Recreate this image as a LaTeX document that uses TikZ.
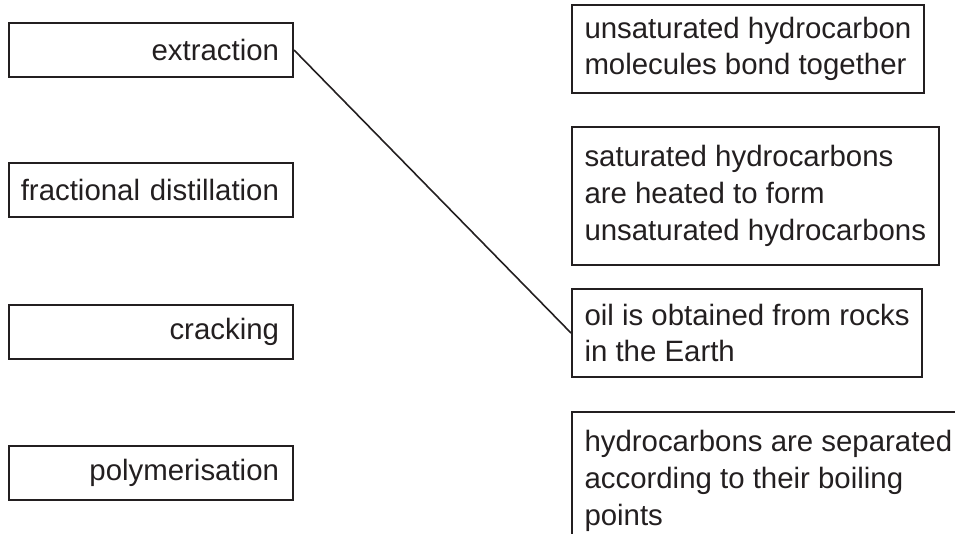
\documentclass[tikz,border=0pt]{standalone}
\usepackage{fontspec}
\setmainfont{Liberation Sans}
\definecolor{ink}{HTML}{231F20}
\begin{document}
\begin{tikzpicture}[x=1pt,y=-1pt,
  every node/.style={font=\fontsize{29.4}{36.7}\selectfont, text=ink},
  leftbox/.style={draw=ink, line width=2pt, minimum width=284pt, minimum height=54pt,
    text width=262pt, inner xsep=11pt, inner ysep=0pt, align=right},
  rightbox/.style={draw=ink, line width=2pt, inner xsep=12.5pt, inner ysep=0pt,
    align=left, anchor=west},
  link/.style={draw=ink, line width=1.6pt}]
\useasboundingbox (0,0) rectangle (955,533);
\node[leftbox] (ext) at (151,50) {extraction\hspace*{3pt}};
\node[leftbox] (frac) at (151,190) {fractional distillation\hspace*{3pt}};
\node[leftbox] (crack) at (151,331.5) {cracking\hspace*{3pt}};
\node[leftbox] (poly) at (151,473) {polymerisation\hspace*{3pt}};
\node[rightbox, minimum height=88pt] (bond) at (571,49) {unsaturated hydrocarbon\\molecules bond together};
\node[rightbox, minimum height=138pt] (heat) at (571,196) {saturated hydrocarbons\\are heated to form\\unsaturated hydrocarbons};
\node[rightbox, minimum height=88pt] (oil) at (571,333) {oil is obtained from rocks\\in the Earth};
\node[rightbox, minimum height=138pt] (sep) at (571,481) {hydrocarbons are separated\\according to their boiling\\points};
\draw[link] (ext.east) -- (oil.west);
\end{tikzpicture}
\end{document}
